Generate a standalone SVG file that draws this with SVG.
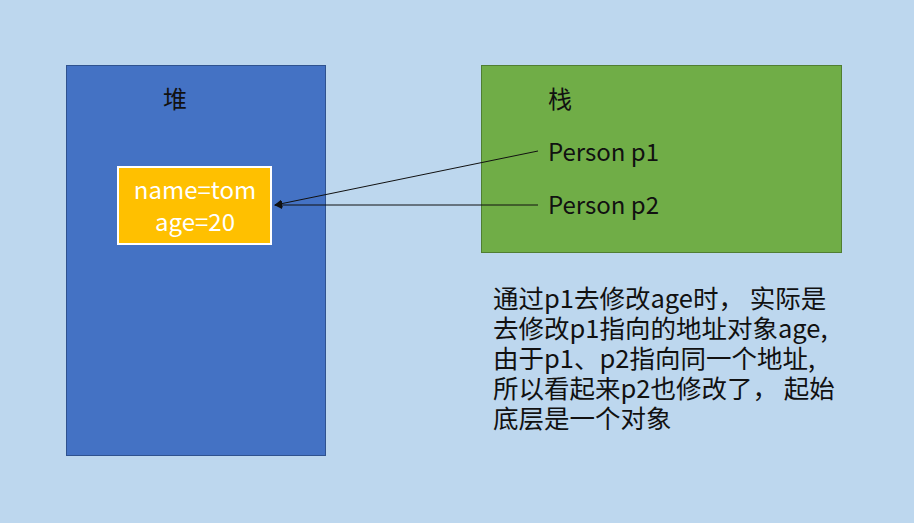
<svg xmlns="http://www.w3.org/2000/svg" width="914" height="523" viewBox="0 0 914 523">
<style>
.t{font-family:"Noto Sans CJK SC","Noto Sans",sans-serif;}
.lbl{font-size:24px;fill:#111;}
.w{font-size:24px;fill:#fff;text-anchor:middle;}
.para{font-size:25.5px;fill:#111;}
.conn{stroke:#111;stroke-width:1;fill:none;}
</style>
<defs>
<marker id="arr" viewBox="0 0 10 10" refX="9" refY="5" markerWidth="8" markerHeight="8" orient="auto" markerUnits="userSpaceOnUse">
<path d="M0,0 L10,5 L0,10 z" fill="#111"/>
</marker>
</defs>
<rect x="0" y="0" width="914" height="523" fill="#BDD7EE"/>
<g id="heap">
<rect x="66.5" y="65.5" width="259" height="390" fill="#4472C4" stroke="#2F528F" stroke-width="1"/>
<text class="t lbl" x="163" y="108">堆</text>
</g>
<g id="stack">
<rect x="481.5" y="65.5" width="360" height="187" fill="#70AD47" stroke="#507E32" stroke-width="1"/>
<text class="t lbl" x="548" y="108">栈</text>
<text class="t lbl" x="548" y="161">Person p1</text>
<text class="t lbl" x="548" y="214">Person p2</text>
</g>
<g id="obj">
<rect x="118" y="167" width="153" height="77" fill="#FFC000" stroke="#FFFFFF" stroke-width="2"/>
<text class="t w" x="195" y="199">name=tom</text>
<text class="t w" x="195" y="231">age=20</text>
</g>
<g id="connectors">
<line class="conn" x1="538" y1="151" x2="275" y2="205" marker-end="url(#arr)"/>
<line class="conn" x1="538" y1="205" x2="275" y2="205" marker-end="url(#arr)"/>
</g>
<g id="note">
<text class="t para" x="493" y="308" xml:space="preserve">通过p1去修改age时， 实际是</text>
<text class="t para" x="493" y="338">去修改p1指向的地址对象age,</text>
<text class="t para" x="493" y="368">由于p1、p2指向同一个地址,</text>
<text class="t para" x="493" y="398" xml:space="preserve">所以看起来p2也修改了， 起始</text>
<text class="t para" x="493" y="428">底层是一个对象</text>
</g>
</svg>
